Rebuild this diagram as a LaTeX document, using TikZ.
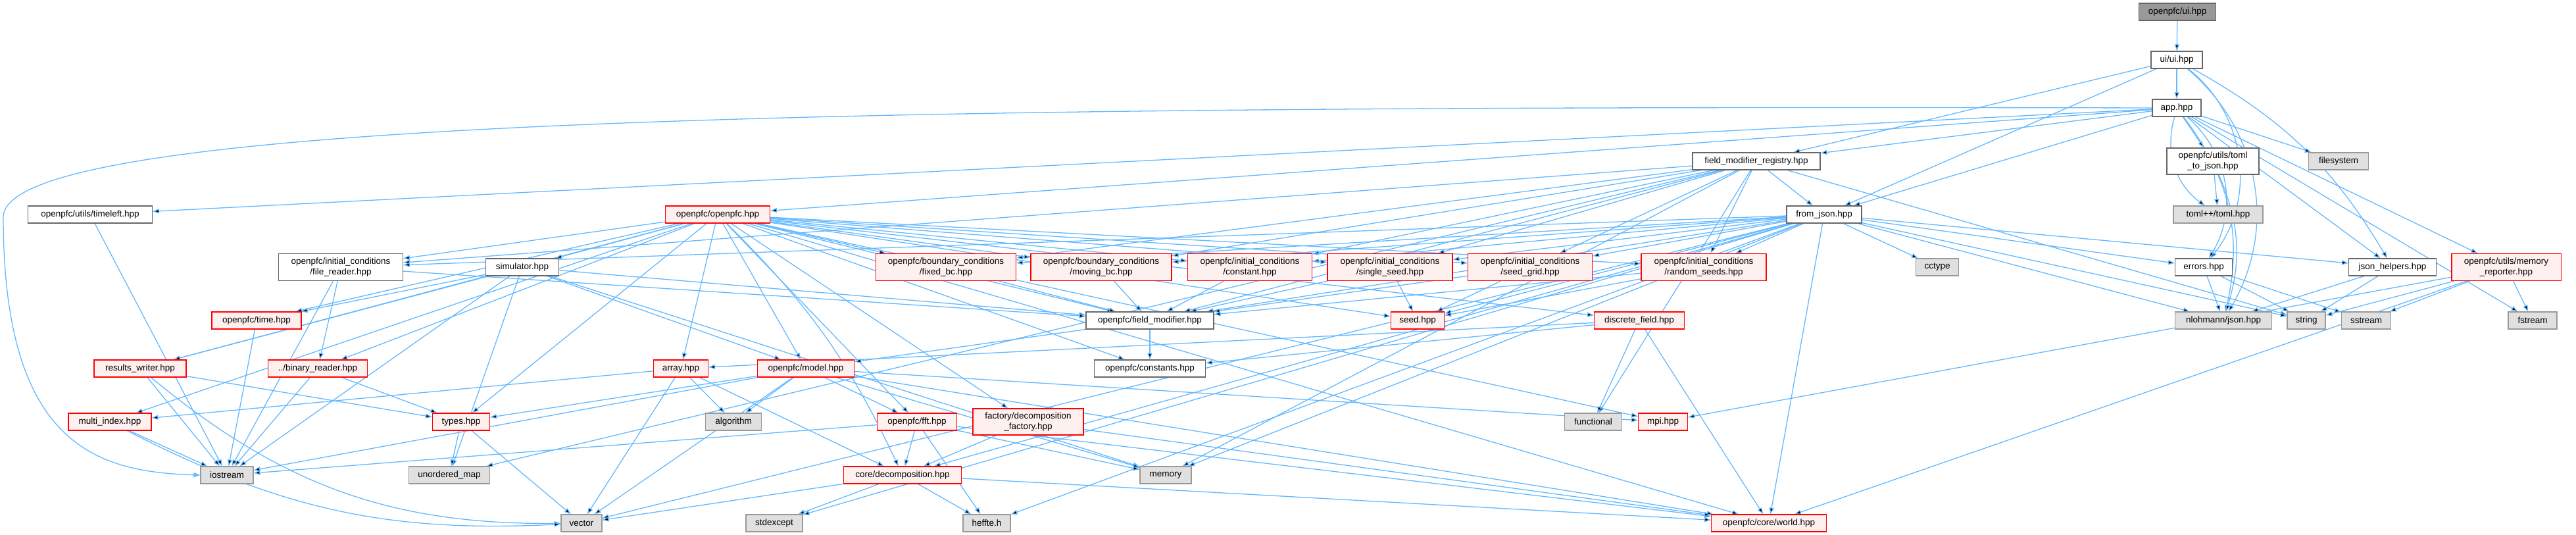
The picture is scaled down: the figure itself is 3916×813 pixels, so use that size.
\documentclass[tikz,border=0pt]{standalone}
\usepackage{fontspec}
\setmainfont{Liberation Sans}
\usetikzlibrary{%
  positioning
 ,arrows.meta
 ,backgrounds
}
\definecolor{depcol}{RGB}{99,184,255}
\definecolor{hdrline}{RGB}{102,102,102}
\definecolor{truncfill}{RGB}{255,240,240}
\definecolor{sysfill}{RGB}{224,224,224}
\definecolor{sysline}{RGB}{153,153,153}
\definecolor{rootfill}{RGB}{153,153,153}
\newcommand\dgfont{\fontsize{13.5}{15.5}\selectfont}
\tikzstyle{dgraph}=[x=1pt,y=1pt,>={Triangle[length=10pt,width=7pt]},font=\dgfont]
\tikzstyle{box}=[draw,line width=1.1pt,inner sep=0pt,minimum height=26pt,align=center]
\tikzstyle{hdr}=[box,draw=hdrline,fill=white]
\tikzstyle{trunc}=[box,draw=red,fill=truncfill]
\tikzstyle{sys}=[box,draw=sysline,fill=sysfill]
\tikzstyle{root}=[box,draw=hdrline,fill=rootfill]
\tikzstyle{dep}=[->,draw=depcol,line width=1.3pt]

\begin{document}
\begin{tikzpicture}[dgraph]
      \useasboundingbox (0,0) rectangle (3916,-813);
      % top of the graph
      \node[root,minimum width=117pt] (n_root) at (3310,-18) {openpfc/ui.hpp};
      \node[hdr,minimum width=78pt] (n_uiui) at (3309,-91) {ui/ui.hpp};
      \node[hdr,minimum width=74pt] (n_app) at (3309,-164) {app.hpp};
      \node[hdr,minimum width=194pt] (n_fmr) at (2670,-245) {field\_modifier\_registry.hpp};
      \node[hdr,minimum width=140pt,minimum height=40pt] (n_tomljson) at (3364,-245) {openpfc/utils/toml\\\_to\_json.hpp};
      \node[sys,minimum width=91pt] (n_fs) at (3555,-245) {filesystem};
      \node[hdr,minimum width=189pt] (n_timeleft) at (137,-326) {openpfc/utils/timeleft.hpp};
      \node[trunc,minimum width=159pt] (n_openpfc) at (1091,-326) {openpfc/openpfc.hpp};
      \node[hdr,minimum width=114pt] (n_fromjson) at (2773,-326) {from\_json.hpp};
      \node[sys,minimum width=136pt] (n_tomlpp) at (3372,-326) {toml++/toml.hpp};
      % initial conditions and boundary conditions
      \node[hdr,minimum width=189pt,minimum height=41pt] (n_filereader) at (518,-406) {openpfc/initial\_conditions\\/file\_reader.hpp};
      \node[hdr,minimum width=111pt] (n_simulator) at (794,-406) {simulator.hpp};
      \node[trunc,minimum width=213pt,minimum height=41pt] (n_fixedbc) at (1438,-406) {openpfc/boundary\_conditions\\/fixed\_bc.hpp};
      \node[trunc,minimum width=214pt,minimum height=41pt] (n_movingbc) at (1674,-406) {openpfc/boundary\_conditions\\/moving\_bc.hpp};
      \node[trunc,minimum width=189pt,minimum height=41pt] (n_constant) at (1900,-406) {openpfc/initial\_conditions\\/constant.hpp};
      \node[trunc,minimum width=190pt,minimum height=41pt] (n_singleseed) at (2113,-406) {openpfc/initial\_conditions\\/single\_seed.hpp};
      \node[trunc,minimum width=189pt,minimum height=41pt] (n_seedgrid) at (2326,-406) {openpfc/initial\_conditions\\/seed\_grid.hpp};
      \node[trunc,minimum width=190pt,minimum height=41pt] (n_randomseeds) at (2590,-406) {openpfc/initial\_conditions\\/random\_seeds.hpp};
      \node[sys,minimum width=65pt] (n_cctype) at (2945,-406) {cctype};
      \node[hdr,minimum width=87pt] (n_errors) at (3350,-406) {errors.hpp};
      \node[hdr,minimum width=133pt] (n_jsonhelpers) at (3637,-406) {json\_helpers.hpp};
      \node[trunc,minimum width=166pt,minimum height=41pt] (n_memrep) at (3810,-406) {openpfc/utils/memory\\\_reporter.hpp};
      % middle rows
      \node[trunc,minimum width=136pt] (n_time) at (390,-487) {openpfc/time.hpp};
      \node[hdr,minimum width=194pt] (n_fieldmod) at (1748,-487) {openpfc/field\_modifier.hpp};
      \node[trunc,minimum width=81pt] (n_seed) at (2155,-487) {seed.hpp};
      \node[trunc,minimum width=137pt] (n_discrete) at (2492,-487) {discrete\_field.hpp};
      \node[sys,minimum width=147pt] (n_nlohmann) at (3380,-487) {nlohmann/json.hpp};
      \node[sys,minimum width=58pt] (n_string) at (3506,-487) {string};
      \node[sys,minimum width=75pt] (n_sstream) at (3597,-487) {sstream};
      \node[sys,minimum width=74pt] (n_fstream) at (3850,-487) {fstream};
      \node[trunc,minimum width=140pt] (n_results) at (213,-560) {results\_writer.hpp};
      \node[trunc,minimum width=151pt] (n_binary) at (483,-560) {../binary\_reader.hpp};
      \node[trunc,minimum width=83pt] (n_array) at (1035,-560) {array.hpp};
      \node[trunc,minimum width=147pt] (n_model) at (1225,-560) {openpfc/model.hpp};
      \node[hdr,minimum width=169pt] (n_constants) at (1748,-560) {openpfc/constants.hpp};
      \node[trunc,minimum width=126pt] (n_multiindex) at (167,-641) {multi\_index.hpp};
      \node[trunc,minimum width=87pt] (n_types) at (701,-641) {types.hpp};
      \node[sys,minimum width=85pt] (n_algorithm) at (1115,-641) {algorithm};
      \node[trunc,minimum width=121pt] (n_fft) at (1394,-641) {openpfc/fft.hpp};
      \node[trunc,minimum width=168pt,minimum height=40pt] (n_factory) at (1563,-641) {factory/decomposition\\\_factory.hpp};
      \node[sys,minimum width=87pt] (n_functional) at (2422,-641) {functional};
      \node[trunc,minimum width=75pt] (n_mpi) at (2528,-641) {mpi.hpp};
      % bottom rows
      \node[sys,minimum width=80pt] (n_iostream) at (345,-722) {iostream};
      \node[sys,minimum width=123pt] (n_umap) at (683,-722) {unordered\_map};
      \node[trunc,minimum width=179pt] (n_decomp) at (1372,-722) {core/decomposition.hpp};
      \node[sys,minimum width=78pt] (n_memory) at (1772,-722) {memory};
      \node[sys,minimum width=62pt] (n_vector) at (884,-795) {vector};
      \node[sys,minimum width=86pt] (n_stdexcept) at (1177,-795) {stdexcept};
      \node[sys,minimum width=72pt] (n_heffte) at (1500,-795) {heffte.h};
      \node[trunc,minimum width=175pt] (n_world) at (2689,-795) {openpfc/core/world.hpp};

      \begin{scope}[on background layer]
      \path[dep]
        (n_root) edge (n_uiui)
        (n_uiui) edge (n_app)
        (n_uiui) edge (n_fmr)
        (n_uiui) edge (n_fromjson)
        (n_uiui) edge[bend left=45] (n_errors)
        (n_uiui) edge[bend left=15] (n_jsonhelpers)
        (n_uiui) edge[bend left=40] (n_nlohmann);
      \path[dep]
        (n_app) edge (n_fmr)
        (n_app) edge (n_fromjson)
        (n_app) edge (n_openpfc)
        (n_app) edge (n_timeleft)
        (n_app) edge (n_tomljson)
        (n_app) edge[bend right=35] (n_tomlpp)
        (n_app) edge (n_fs)
        (n_app) edge[bend left=40] (n_errors)
        (n_app) edge (n_jsonhelpers)
        (n_app) edge (n_memrep)
        (n_app) edge[bend left=25] (n_nlohmann)
        (n_app) edge (n_fstream);
      \draw[dep] (n_app.west) .. controls (1400,-160) and (5,-175) .. (5,-330)
        .. controls (5,-680) and (150,-717) .. (n_iostream.west);
      \path[dep]
        (n_fmr) edge (n_fromjson)
        (n_fmr) edge (n_fixedbc)
        (n_fmr) edge (n_movingbc)
        (n_fmr) edge (n_constant)
        (n_fmr) edge (n_singleseed)
        (n_fmr) edge (n_seedgrid)
        (n_fmr) edge (n_randomseeds)
        (n_fmr) edge (n_filereader)
        (n_fmr) edge (n_fieldmod)
        (n_fmr) edge (n_functional)
        (n_fmr) edge (n_memory)
        (n_fmr) edge (n_string)
        (n_fmr) edge (n_umap);
      \path[dep]
        (n_fromjson) edge (n_fixedbc)
        (n_fromjson) edge (n_movingbc)
        (n_fromjson) edge (n_constant)
        (n_fromjson) edge (n_singleseed)
        (n_fromjson) edge (n_seedgrid)
        (n_fromjson) edge (n_randomseeds)
        (n_fromjson) edge (n_filereader)
        (n_fromjson) edge (n_fieldmod)
        (n_fromjson) edge (n_seed)
        (n_fromjson) edge (n_errors)
        (n_fromjson) edge (n_jsonhelpers)
        (n_fromjson) edge (n_cctype)
        (n_fromjson) edge (n_nlohmann)
        (n_fromjson) edge (n_string)
        (n_fromjson) edge (n_world)
        (n_fromjson) edge (n_heffte)
        (n_fromjson) edge (n_vector)
        (n_fromjson) edge (n_stdexcept)
        (n_fromjson) edge (n_memory)
        (n_fromjson) edge (n_decomp);
      \path[dep]
        (n_openpfc) edge (n_array)
        (n_openpfc) edge (n_fixedbc)
        (n_openpfc) edge (n_movingbc)
        (n_openpfc) edge (n_constant)
        (n_openpfc) edge (n_singleseed)
        (n_openpfc) edge (n_seedgrid)
        (n_openpfc) edge (n_randomseeds)
        (n_openpfc) edge (n_seed)
        (n_openpfc) edge (n_filereader)
        (n_openpfc) edge (n_constants)
        (n_openpfc) edge[bend left=10] (n_decomp)
        (n_openpfc) edge (n_world)
        (n_openpfc) edge (n_discrete)
        (n_openpfc) edge (n_factory)
        (n_openpfc) edge (n_fft)
        (n_openpfc) edge (n_fieldmod)
        (n_openpfc) edge (n_model)
        (n_openpfc) edge (n_multiindex)
        (n_openpfc) edge (n_results)
        (n_openpfc) edge (n_simulator)
        (n_openpfc) edge (n_time)
        (n_openpfc) edge (n_types)
        (n_openpfc) edge (n_binary)
        (n_openpfc) edge (n_mpi);
      \path[dep]
        (n_simulator) edge (n_model)
        (n_simulator) edge (n_time)
        (n_simulator) edge (n_fieldmod)
        (n_simulator) edge (n_results)
        (n_simulator) edge (n_iostream)
        (n_simulator) edge (n_umap)
        (n_simulator) edge (n_memory)
        (n_filereader) edge (n_binary)
        (n_filereader) edge (n_iostream)
        (n_filereader) edge (n_fieldmod)
        (n_timeleft) edge (n_iostream)
        (n_time) edge (n_iostream)
        (n_results) edge (n_iostream)
        (n_results) edge (n_types)
        (n_results) edge[bend right=20] (n_vector)
        (n_binary) edge (n_iostream)
        (n_binary) edge (n_types)
        (n_multiindex) edge (n_iostream)
        (n_multiindex) edge[bend right=15] (n_vector)
        (n_types) edge (n_umap)
        (n_types) edge (n_vector);
      \path[dep]
        (n_array) edge (n_multiindex)
        (n_array) edge (n_vector)
        (n_array) edge (n_algorithm)
        (n_array) edge (n_decomp)
        (n_model) edge (n_types)
        (n_model) edge (n_algorithm)
        (n_model) edge (n_vector)
        (n_model) edge (n_iostream)
        (n_model) edge (n_fft)
        (n_model) edge (n_world)
        (n_model) edge (n_mpi)
        (n_model) edge (n_memory)
        (n_discrete) edge (n_functional)
        (n_discrete) edge (n_world)
        (n_discrete) edge (n_array)
        (n_discrete) edge (n_constants)
        (n_fieldmod) edge (n_model)
        (n_fieldmod) edge (n_constants)
        (n_fft) edge (n_decomp)
        (n_fft) edge (n_heffte)
        (n_fft) edge (n_memory)
        (n_fft) edge (n_world)
        (n_fft) edge (n_iostream)
        (n_factory) edge (n_decomp)
        (n_factory) edge (n_world)
        (n_decomp) edge (n_vector)
        (n_decomp) edge (n_stdexcept)
        (n_decomp) edge (n_heffte)
        (n_decomp) edge (n_world);
      \path[dep]
        (n_constant) edge (n_fieldmod)
        (n_singleseed) edge (n_fieldmod)
        (n_singleseed) edge (n_seed)
        (n_seedgrid) edge (n_fieldmod)
        (n_seedgrid) edge (n_seed)
        (n_randomseeds) edge (n_fieldmod)
        (n_randomseeds) edge (n_seed)
        (n_fixedbc) edge (n_fieldmod)
        (n_movingbc) edge (n_fieldmod)
        (n_errors) edge (n_nlohmann)
        (n_errors) edge (n_string)
        (n_errors) edge (n_sstream)
        (n_jsonhelpers) edge (n_nlohmann)
        (n_jsonhelpers) edge (n_string)
        (n_tomljson) edge (n_tomlpp)
        (n_tomljson) edge[bend left=20] (n_nlohmann)
        (n_memrep) edge (n_string)
        (n_memrep) edge (n_sstream)
        (n_memrep) edge (n_fstream)
        (n_memrep) edge (n_world)
        (n_memrep) edge (n_mpi);
      \end{scope}
\end{tikzpicture}
\end{document}
